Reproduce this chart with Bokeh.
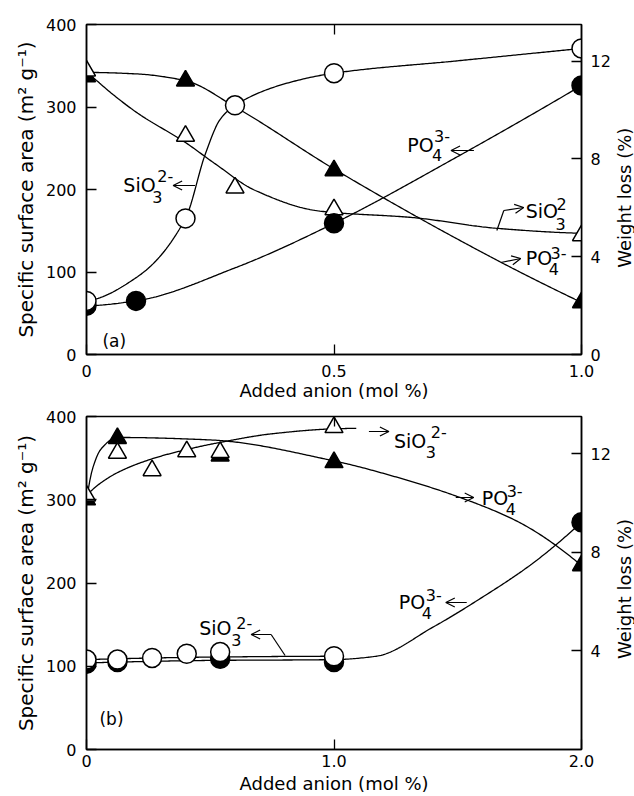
import math
import numpy as np
from bokeh.plotting import figure
from bokeh.models import Range1d, LinearAxis, FixedTicker, Label, Arrow, OpenHead
from bokeh.layouts import column, row
from bokeh.embed import file_html
from bokeh.resources import INLINE

FONT = "DejaVu Sans"
WL_MAX = 13.5

# ---------------- data: panel (a) ----------------
x_label = "Added anion (mol %)"
y_label = "Specific surface area (m\u00b2 g\u207b\u00b9)"
y2_label = "Weight loss (%)"

a_sio3_sa_x = [0, 0.2, 0.3, 0.5, 1.0]
a_sio3_sa = [65, 165, 302, 341, 371]
a_po4_sa_x = [0, 0.1, 0.5, 1.0]
a_po4_sa = [59, 65, 159, 326]
a_sio3_wl_x = [0, 0.2, 0.3, 0.5, 1.0]
a_sio3_wl = [11.61, 8.94, 6.82, 5.93, 4.87]
a_po4_wl_x = [0, 0.2, 0.5, 1.0]
a_po4_wl = [11.37, 11.2, 7.53, 2.13]

# drawn curves
a_sio3_sa_curve_x = [0, 0.1, 0.2, 0.24, 0.27, 0.3, 0.4, 0.5, 0.75, 1.0]
a_sio3_sa_curve = [65, 93, 165, 243, 285, 302, 328, 341, 356, 371]
a_po4_sa_curve_x = [0, 0.1, 0.3, 0.5, 0.75, 1.0]
a_po4_sa_curve = [59, 65, 105, 159, 240, 326]
a_sio3_wl_curve_x = [0, 0.1, 0.2, 0.26, 0.34, 0.47, 0.66, 0.83, 1.0]
a_sio3_wl_curve = [11.58, 9.92, 8.67, 7.80, 6.72, 5.87, 5.60, 5.16, 4.96]
a_po4_wl_curve_x = [0, 0.1, 0.2, 0.3, 0.5, 0.83, 1.0]
a_po4_wl_curve = [11.54, 11.48, 11.2, 10.13, 7.59, 3.85, 2.13]

# ---------------- data: panel (b) ----------------
b_sio3_sa_x = [0, 0.125, 0.265, 0.405, 0.54, 1.0]
b_sio3_sa = [108, 108, 110, 115, 117, 112]
b_po4_sa_x = [0, 0.125, 0.54, 1.0, 2.0]
b_po4_sa = [103, 105, 109, 105, 273]
b_sio3_wl_x = [0, 0.125, 0.265, 0.405, 0.54, 1.0]
b_sio3_wl = [10.29, 12.02, 11.31, 12.08, 12.05, 13.06]
b_po4_wl_x = [0, 0.125, 0.54, 1.0, 2.0]
b_po4_wl = [10.13, 12.62, 11.91, 11.64, 7.46]

b_sio3_sa_curve_x = [0, 0.5, 1.0]
b_sio3_sa_curve = [108, 111, 112]
b_po4_sa_curve_x = [0, 0.5, 1.0, 1.17, 1.4, 1.6, 1.8, 2.0]
b_po4_sa_curve = [104, 107, 108, 112, 147, 183, 223, 273]
b_sio3_wl_curve_x = [0, 0.05, 0.13, 0.27, 0.4, 0.54, 0.75, 1.0, 1.09]
b_sio3_wl_curve = [10.3, 10.75, 11.25, 11.8, 12.15, 12.45, 12.8, 13.0, 13.02]
b_po4_wl_curve_x = [0, 0.025, 0.06, 0.125, 0.5, 1.0, 1.25, 1.5, 1.75, 2.0]
b_po4_wl_curve = [10.1, 11.4, 12.2, 12.65, 12.55, 11.7, 11.05, 10.25, 9.2, 7.46]


def pchip(xs, ys, n=300):
    x = np.asarray(xs, float)
    y = np.asarray(ys, float)
    h = np.diff(x)
    d = np.diff(y) / h
    m = np.zeros_like(y)
    if len(x) == 2:
        m[:] = d[0]
    else:
        for k in range(1, len(x) - 1):
            if d[k - 1] * d[k] > 0:
                w1 = 2 * h[k] + h[k - 1]
                w2 = h[k] + 2 * h[k - 1]
                m[k] = (w1 + w2) / (w1 / d[k - 1] + w2 / d[k])

        def end(h0, h1, d0, d1):
            mm = ((2 * h0 + h1) * d0 - h0 * d1) / (h0 + h1)
            if np.sign(mm) != np.sign(d0):
                mm = 0.0
            elif np.sign(d0) != np.sign(d1) and abs(mm) > abs(3 * d0):
                mm = 3 * d0
            return mm

        m[0] = end(h[0], h[1], d[0], d[1])
        m[-1] = end(h[-1], h[-2], d[-1], d[-2])
    xx = np.linspace(x[0], x[-1], n)
    idx = np.clip(np.searchsorted(x, xx, side="right") - 1, 0, len(x) - 2)
    t = (xx - x[idx]) / h[idx]
    h00 = 2 * t**3 - 3 * t**2 + 1
    h10 = t**3 - 2 * t**2 + t
    h01 = -2 * t**3 + 3 * t**2
    h11 = t**3 - t**2
    yy = h00 * y[idx] + h10 * h[idx] * m[idx] + h01 * y[idx + 1] + h11 * h[idx] * m[idx + 1]
    return xx, yy


MAIN_W = 613
SIDE_W = 634 - MAIN_W


def make_panel(xmax, xticks, xlabels, height, top, bottom, r_ticks, tick_standoff, lab_standoff):
    p = figure(width=MAIN_W, height=height, x_range=Range1d(0, xmax), y_range=Range1d(0, 400),
               output_backend="svg", toolbar_location=None,
               min_border_left=86, min_border_right=MAIN_W - 583,
               min_border_top=top, min_border_bottom=bottom)
    p.extra_y_ranges = {"wl": Range1d(0, WL_MAX)}
    p.xgrid.visible = False
    p.ygrid.visible = False
    p.background_fill_color = "white"
    p.border_fill_color = "white"
    p.outline_line_color = "black"
    p.outline_line_width = 1.5

    def style(ax):
        ax.axis_line_color = "black"
        ax.axis_line_width = 1.5
        ax.major_tick_in = 10
        ax.major_tick_out = 0
        ax.major_tick_line_color = "black"
        ax.major_tick_line_width = 1.3
        ax.minor_tick_line_color = None
        ax.major_label_text_font = FONT
        ax.major_label_text_font_size = "16px"
        ax.major_label_text_color = "black"
        ax.axis_label_text_font = FONT
        ax.axis_label_text_font_style = "normal"
        ax.axis_label_text_color = "black"

    xa = p.xaxis[0]
    style(xa)
    xa.ticker = FixedTicker(ticks=xticks)
    xa.major_label_overrides = dict(zip(xticks, xlabels))
    xa.axis_label = x_label
    xa.axis_label_text_font_size = "18px"
    xa.major_label_standoff = tick_standoff
    xa.axis_label_standoff = lab_standoff

    ya = p.yaxis[0]
    style(ya)
    ya.ticker = FixedTicker(ticks=[0, 100, 200, 300, 400])
    ya.axis_label = y_label
    ya.axis_label_text_font_size = "20px"
    ya.major_label_standoff = 10
    ya.axis_label_standoff = 5

    top_ax = LinearAxis(ticker=FixedTicker(ticks=[xmax / 2]))
    style(top_ax)
    top_ax.axis_line_color = None
    top_ax.major_label_text_font_size = "1px"
    top_ax.major_label_text_alpha = 0
    top_ax.major_label_standoff = 0
    p.add_layout(top_ax, "above")

    ra = LinearAxis(y_range_name="wl", ticker=FixedTicker(ticks=r_ticks))
    style(ra)
    ra.major_label_standoff = 9
    p.add_layout(ra, "right")
    return p


def side_title(height, center_y):
    """Narrow strip carrying the right-hand axis title, reading bottom to top."""
    s = figure(width=SIDE_W, height=height, x_range=Range1d(0, 1), y_range=Range1d(0, height),
               output_backend="svg", toolbar_location=None,
               min_border_left=0, min_border_right=0, min_border_top=0, min_border_bottom=0)
    s.axis.visible = False
    s.grid.visible = False
    s.outline_line_color = None
    s.background_fill_color = "white"
    s.border_fill_color = "white"
    s.add_layout(Label(x=0.5, y=height - center_y, text=y2_label, angle=math.pi / 2,
                       text_font=FONT, text_font_size="18px", text_align="center",
                       text_baseline="middle", text_color="black"))
    return s


def curve(p, xs, ys, rng=None):
    xx, yy = pchip(xs, ys)
    kw = {"y_range_name": rng} if rng else {}
    p.line(xx, yy, line_color="black", line_width=1.3, **kw)


def marks(p, xs, ys, marker, filled, rng=None):
    kw = {"y_range_name": rng} if rng else {}
    size = 19 if marker == "circle" else 18
    p.scatter(xs, ys, marker=marker, size=size,
              fill_color="black" if filled else "white",
              line_color="black", line_width=1.5, **kw)


def chem(p, conv, parts):
    for text, px, py, size in parts:
        x, y = conv(px, py)
        p.add_layout(Label(x=x, y=y, text=text, text_font=FONT, text_font_size=size,
                           text_align="left", text_baseline="middle", text_color="black"))


def arrow(p, conv, p0, p1, head=True):
    x0, y0 = conv(*p0)
    x1, y1 = conv(*p1)
    p.add_layout(Arrow(x_start=x0, y_start=y0, x_end=x1, y_end=y1, line_width=1.2,
                       line_color="black",
                       end=OpenHead(size=9, line_width=1.2, line_color="black") if head else None))


def a_pos(px, py):
    return (px - 86) / 497, (354 - py) * 400 / 330


def b_pos(px, py):
    return (px - 87) / 496 * 2, (749 - py) * 400 / 333


# ---------------- panel (a) ----------------
HA, HB = 404, 392
pa = make_panel(1.0, [0, 0.5, 1.0], ["0", "0.5", "1.0"], HA, 24, 50, [0, 4, 8, 12], 10, 0)
curve(pa, a_sio3_sa_curve_x, a_sio3_sa_curve)
curve(pa, a_po4_sa_curve_x, a_po4_sa_curve)
curve(pa, a_sio3_wl_curve_x, a_sio3_wl_curve, "wl")
curve(pa, a_po4_wl_curve_x, a_po4_wl_curve, "wl")
marks(pa, a_po4_wl_x, a_po4_wl, "triangle", True, "wl")
marks(pa, a_sio3_wl_x, a_sio3_wl, "triangle", False, "wl")
marks(pa, a_po4_sa_x, a_po4_sa, "circle", True)
marks(pa, a_sio3_sa_x, a_sio3_sa, "circle", False)

chem(pa, a_pos, [("SiO", 123, 184, "19px"), ("3", 152, 196, "16px"), ("2-", 157, 175, "16px")])
arrow(pa, a_pos, (195, 185), (173, 185))
chem(pa, a_pos, [("PO", 408, 144, "19px"), ("4", 433, 154, "16px"), ("3-", 435, 135, "16px")])
arrow(pa, a_pos, (475, 150), (452, 150))
chem(pa, a_pos, [("SiO", 527, 210, "19px"), ("3", 557, 223, "16px"), ("2", 558, 203, "16px")])
arrow(pa, a_pos, (498, 230), (505, 210), head=False)
arrow(pa, a_pos, (505, 210), (525, 207))
chem(pa, a_pos, [("PO", 527, 257, "19px"), ("4", 550, 268, "16px"), ("3-", 552, 252, "16px")])
arrow(pa, a_pos, (502, 262), (522, 258))
chem(pa, a_pos, [("(a)", 102, 340, "17px")])
sa = side_title(HA, 212)

# ---------------- panel (b) ----------------
pb = make_panel(2.0, [0, 1.0, 2.0], ["0", "1.0", "2.0"], HB, 12, 47, [4, 8, 12], 5, 3)
curve(pb, b_sio3_sa_curve_x, b_sio3_sa_curve)
curve(pb, b_po4_sa_curve_x, b_po4_sa_curve)
curve(pb, b_sio3_wl_curve_x, b_sio3_wl_curve, "wl")
curve(pb, b_po4_wl_curve_x, b_po4_wl_curve, "wl")
marks(pb, b_po4_wl_x, b_po4_wl, "triangle", True, "wl")
marks(pb, b_sio3_wl_x, b_sio3_wl, "triangle", False, "wl")
marks(pb, b_po4_sa_x, b_po4_sa, "circle", True)
marks(pb, b_sio3_sa_x, b_sio3_sa, "circle", False)

chem(pb, b_pos, [("SiO", 395, 440, "19px"), ("3", 427, 451, "16px"), ("2-", 432, 431, "16px")])
arrow(pb, b_pos, (370, 431), (390, 431))
chem(pb, b_pos, [("PO", 483, 497, "19px"), ("4", 507, 508, "16px"), ("3-", 508, 490, "16px")])
arrow(pb, b_pos, (457, 497), (475, 497))
chem(pb, b_pos, [("PO", 400, 601, "19px"), ("4", 423, 612, "16px"), ("3-", 427, 594, "16px")])
arrow(pb, b_pos, (468, 602), (447, 602))
chem(pb, b_pos, [("SiO", 200, 627, "19px"), ("3", 232, 639, "16px"), ("2-", 237, 622, "16px")])
arrow(pb, b_pos, (272, 634), (252, 634))
arrow(pb, b_pos, (272, 634), (286, 655), head=False)
chem(pb, b_pos, [("(b)", 100, 718, "17px")])
sb = side_title(HB, 607 - HA)

layout = column(row(pa, sa), row(pb, sb))
open("out.html", "w").write(file_html(layout, INLINE))
